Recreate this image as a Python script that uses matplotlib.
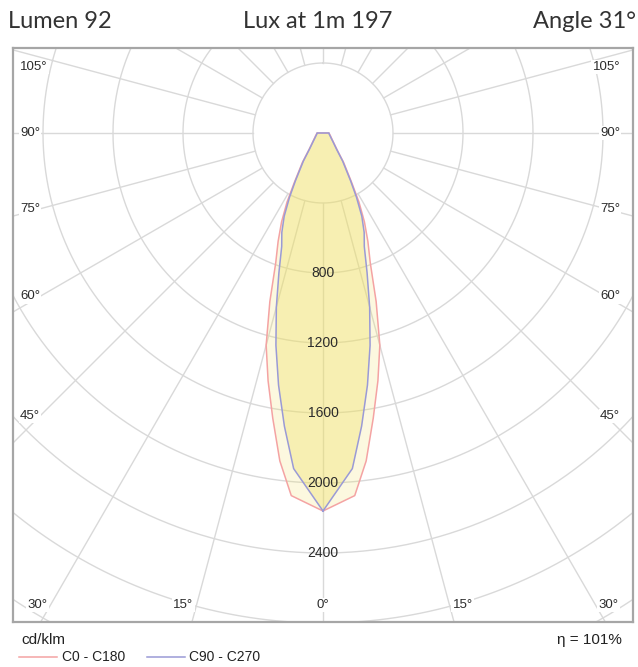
import numpy as np
import matplotlib

matplotlib.use("Agg")
import matplotlib.pyplot as plt
from matplotlib.lines import Line2D

# ---- data (cd/klm), half-plane, symmetric about nadir ----
gamma_deg = [0, 5, 7.5, 10, 12.5, 15, 17.5, 20, 22.5, 25, 27.5, 30, 35, 40, 50, 60, 70, 80, 90]
c0_c180 = [2160, 2080, 1890, 1654, 1450, 1255, 1010, 790, 670, 560, 445, 330, 205, 125, 75, 55, 45, 38, 34]
c90_c270 = [2160, 1925, 1690, 1463, 1243, 1030, 838, 690, 615, 525, 415, 315, 195, 120, 72, 52, 42, 36, 34]

ring_values = [400, 800, 1200, 1600, 2000, 2400, 2800, 3200, 3600]
ring_labels = [800, 1200, 1600, 2000, 2400]
side_angles = [105, 90, 75, 60, 45]
bottom_angles = [-30, -15, 0, 15, 30]

title_left = "Lumen 92"
title_mid = "Lux at 1m 197"
title_right = "Angle 31°"
unit_text = "cd/klm"
eta_text = "η = 101%"
series_names = ["C0 - C180", "C90 - C270"]

RED = "#f4a3a3"
BLUE = "#9a9ad6"
FILL = "#f0e060"
GRID = "#d9d9d9"
TXT = "#2b2b2b"

W, H = 638, 667
PX = 1 / 0.175  # cd per pixel


def curve_xy(values):
    g = np.radians(gamma_deg)
    v = np.asarray(values, float)
    # right side from nadir up to 90, then left side back down
    x = np.concatenate([v * np.sin(g), -(v * np.sin(g))[::-1]])
    y = np.concatenate([-v * np.cos(g), -(v * np.cos(g))[::-1]])
    return x, y


fig = plt.figure(figsize=(W / 100, H / 100), dpi=100)
ax = fig.add_axes([13 / W, (H - 622) / H, 620 / W, 574 / H])
ax.set_xlim(-310 * PX, 310 * PX)
ax.set_ylim(-489 * PX, 85 * PX)
ax.set_xticks([])
ax.set_yticks([])
for s in ax.spines.values():
    s.set_color("#a6a6a6")
    s.set_linewidth(1.6)

# grid rings and radial lines
t = np.linspace(0, 2 * np.pi, 721)
for r in ring_values:
    ax.plot(r * np.sin(t), r * np.cos(t), color=GRID, lw=1.0, zorder=1)
for a in range(0, 360, 15):
    ar = np.radians(a)
    ax.plot([400 * np.sin(ar), 5000 * np.sin(ar)], [-400 * np.cos(ar), -5000 * np.cos(ar)],
            color=GRID, lw=1.0, zorder=1)

# curves
xr, yr = curve_xy(c0_c180)
xb, yb = curve_xy(c90_c270)
ax.fill(xr, yr, color=FILL, alpha=0.2, lw=0, zorder=2)
ax.fill(xb, yb, color=FILL, alpha=0.35, lw=0, zorder=3)
ax.plot(np.append(xr, xr[0]), np.append(yr, yr[0]), color=RED, lw=1.1, zorder=4)
ax.plot(np.append(xb, xb[0]), np.append(yb, yb[0]), color=BLUE, lw=1.1, zorder=5)

# ring labels
for v in ring_labels:
    ax.text(0, -v, str(v), ha="center", va="center", fontsize=10,
            family="Liberation Sans", color=TXT, zorder=6)

# angle labels on the sides
box = dict(facecolor="white", edgecolor="none", pad=1.0)
for a in side_angles:
    ar = np.radians(a)
    y = -283 * PX * np.cos(ar) / np.sin(ar)
    y = min(y, 66 * PX)
    ax.text(-303 * PX, y, f"{a}°", ha="left", va="center", fontsize=9.5,
            family="Liberation Sans", color=TXT, bbox=box, zorder=6)
    ax.text(297 * PX, y, f"{a}°", ha="right", va="center", fontsize=9.5,
            family="Liberation Sans", color=TXT, bbox=box, zorder=6)

# angle labels along the bottom
for a in bottom_angles:
    x = 472 * PX * np.tan(np.radians(a))
    ha = "center" if a == 0 else ("right" if a < 0 else "left")
    x += (-3 * PX if a < 0 else 3 * PX) if a != 0 else 0
    ax.text(x, -472 * PX, f"{abs(a)}°", ha=ha, va="center", fontsize=9.5,
            family="Liberation Sans", color=TXT, bbox=box, zorder=6)

# header
def fy(p):
    return 1 - p / H


fig.text(8 / W, fy(22), title_left, ha="left", va="center", fontsize=17, family="Lato", color="#333333")
fig.text(318 / W, fy(22), title_mid, ha="center", va="center", fontsize=17, family="Lato", color="#333333")
fig.text(636 / W, fy(22), title_right, ha="right", va="center", fontsize=17, family="Lato", color="#333333")

# footer
fig.text(21 / W, fy(640), unit_text, ha="left", va="center", fontsize=11,
         family="Liberation Sans", color="#222222")
fig.text(622 / W, fy(640), eta_text, ha="right", va="center", fontsize=11,
         family="Liberation Sans", color="#222222")
for (x0, x1, xt), col, name in zip([(19, 57, 62), (147, 185, 189)], [RED, BLUE], series_names):
    fig.add_artist(Line2D([x0 / W, x1 / W], [fy(657), fy(657)], color=col, lw=1.1))
    fig.text(xt / W, fy(657), name, ha="left", va="center", fontsize=10,
             family="Liberation Sans", color="#222222")

fig.savefig("out.png", dpi=100)
